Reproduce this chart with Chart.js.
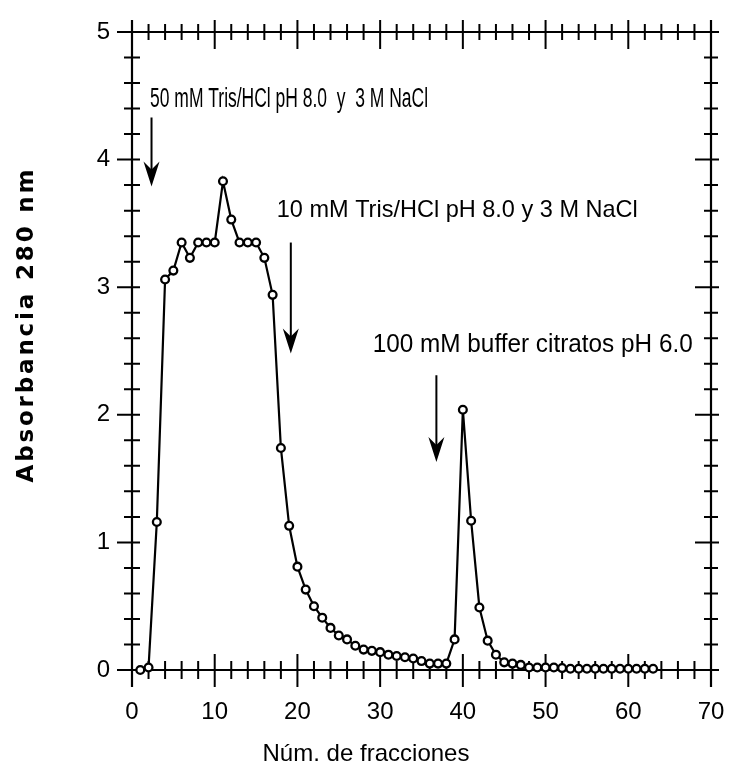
<!DOCTYPE html>
<html>
<head>
<meta charset="utf-8">
<script src="https://cdn.jsdelivr.net/npm/chart.js@4"></script>
<style>
  html, body { margin: 0; padding: 0; background: #fff; }
  canvas { display: block; }
</style>
</head>
<body>
<canvas id="c" width="729" height="768"></canvas>
<script>
// ---- data ----
const fractions = [1,2,3,4,5,6,7,8,9,10,11,12,13,14,15,16,17,18,19,20,21,22,23,24,25,26,27,28,29,30,31,32,33,34,35,36,37,38,39,40,41,42,43,44,45,46,47,48,49,50,51,52,53,54,55,56,57,58,59,60,61,62,63];
const absorbance = [0.00,0.02,1.16,3.06,3.13,3.35,3.23,3.35,3.35,3.35,3.83,3.53,3.35,3.35,3.35,3.23,2.94,1.74,1.13,0.81,0.63,0.50,0.41,0.33,0.27,0.24,0.19,0.16,0.15,0.14,0.12,0.11,0.10,0.09,0.07,0.05,0.05,0.05,0.24,2.04,1.17,0.49,0.23,0.12,0.06,0.05,0.04,0.02,0.02,0.02,0.02,0.015,0.01,0.01,0.01,0.01,0.01,0.01,0.01,0.01,0.01,0.01,0.01];

const xTitle = "Núm. de fracciones";
const yTitle = "Absorbancia 280 nm";

// annotations: label text, label anchor (x,y in data units), arrow x, arrow top y, arrow tip y
const noteTexts = ["50 mM Tris/HCl pH 8.0  y  3 M NaCl", "10 mM Tris/HCl pH 8.0 y 3 M NaCl", "100 mM buffer citratos pH 6.0"];
const noteX = [2.18, 17.5, 29.1];
const noteY = [4.47, 3.60, 2.55];
const arrowX = [2.36, 19.2, 36.8];
const arrowTop = [4.33, 3.35, 2.31];
const arrowTip = [3.79, 2.48, 1.63];
const noteWidths = [278, 361, 320];
const noteSizes = [27, 24, 25];

const points = fractions.map((f, i) => ({ x: f, y: absorbance[i] }));

const axesPlugin = {
  id: 'axesPlugin',
  beforeDatasetsDraw(chart) {
    const ctx = chart.ctx;
    const xs = chart.scales.x, ys = chart.scales.y;
    const L = xs.getPixelForValue(0), R = xs.getPixelForValue(70);
    const B = ys.getPixelForValue(0), T = ys.getPixelForValue(5);
    ctx.save();
    ctx.strokeStyle = '#000';
    ctx.lineWidth = 2.2;
    ctx.lineCap = 'butt';
    ctx.beginPath();
    ctx.moveTo(L - 8, B); ctx.lineTo(R, B);
    ctx.moveTo(L - 8, T); ctx.lineTo(R + 2, T);
    ctx.moveTo(L, T - 12); ctx.lineTo(L, B + 17);
    ctx.moveTo(R, T - 12); ctx.lineTo(R, B + 17);
    ctx.stroke();
    ctx.lineWidth = 2;
    ctx.beginPath();
    for (let v = 0; v <= 70; v += 2) {
      const px = xs.getPixelForValue(v);
      const major = v % 10 === 0;
      ctx.moveTo(px, B - (major ? 16 : 9)); ctx.lineTo(px, B + (major ? 17 : 9));
      ctx.moveTo(px, T - (major ? 12 : 8)); ctx.lineTo(px, T + (major ? 17 : 8));
    }
    for (let k = 0; k <= 25; k++) {
      const v = k / 5;
      const py = ys.getPixelForValue(v);
      const major = k % 5 === 0;
      ctx.moveTo(L - (major ? 15 : 8), py); ctx.lineTo(L + 8, py);
      ctx.moveTo(R - (major ? 16 : 7), py); ctx.lineTo(R + (major ? 8 : 7), py);
    }
    ctx.stroke();
    ctx.restore();
  },
  afterDraw(chart) {
    const ctx = chart.ctx;
    const xs = chart.scales.x, ys = chart.scales.y;
    ctx.save();
    ctx.fillStyle = '#000';
    ctx.strokeStyle = '#000';
    for (let i = 0; i < noteTexts.length; i++) {
      ctx.font = noteSizes[i] + 'px "Liberation Sans Narrow", "Liberation Sans", sans-serif';
      ctx.textBaseline = 'middle';
      ctx.textAlign = 'left';
      const w = ctx.measureText(noteTexts[i]).width;
      const px = xs.getPixelForValue(noteX[i]);
      const py = ys.getPixelForValue(noteY[i]);
      ctx.save();
      ctx.translate(px, py);
      ctx.scale(noteWidths[i] / w, 1);
      ctx.fillText(noteTexts[i], 0, 0);
      ctx.restore();
      const ax = xs.getPixelForValue(arrowX[i]);
      const at = ys.getPixelForValue(arrowTop[i]);
      const ab = ys.getPixelForValue(arrowTip[i]);
      ctx.lineWidth = 2;
      ctx.beginPath();
      ctx.moveTo(ax, at); ctx.lineTo(ax, ab - 12);
      ctx.stroke();
      ctx.beginPath();
      ctx.moveTo(ax, ab);
      ctx.lineTo(ax - 8, ab - 25);
      ctx.lineTo(ax, ab - 17);
      ctx.lineTo(ax + 8, ab - 25);
      ctx.closePath();
      ctx.fill();
    }
    ctx.font = '24px "Liberation Sans", sans-serif';
    ctx.textAlign = 'center';
    ctx.textBaseline = 'middle';
    {
      const w = ctx.measureText(xTitle).width;
      ctx.save();
      ctx.translate(366, 754);
      ctx.scale(207 / w, 1);
      ctx.fillText(xTitle, 0, 0);
      ctx.restore();
    }
    ctx.save();
    ctx.translate(27, 326);
    ctx.rotate(-Math.PI / 2);
    ctx.font = 'bold 23px "DejaVu Sans", sans-serif';
    const chars = Array.from(yTitle);
    const widths = chars.map(c => ctx.measureText(c).width);
    const natural = widths.reduce((a, b) => a + b, 0);
    const target = 313;
    const gap = (target - natural) / (chars.length - 1);
    let cx = -target / 2;
    ctx.textAlign = 'left';
    for (let i = 0; i < chars.length; i++) {
      ctx.fillText(chars[i], cx, 0);
      cx += widths[i] + gap;
    }
    ctx.restore();
    ctx.restore();
  }
};

new Chart(document.getElementById('c'), {
  type: 'line',
  data: {
    datasets: [
      {
        data: points,
        borderColor: '#000',
        borderWidth: 2.2,
        pointRadius: 3.9,
        pointBorderWidth: 2.3,
        pointBackgroundColor: '#fff',
        pointBorderColor: '#000',
        tension: 0,
        clip: false
      },
      {
        data: points,
        showLine: false,
        pointRadius: 1,
        pointBorderWidth: 0,
        pointBackgroundColor: '#000',
        clip: false
      }
    ]
  },
  options: {
    responsive: false,
    devicePixelRatio: 1,
    animation: false,
    events: [],
    layout: { padding: { left: 0, top: 32, right: 18, bottom: 0 } },
    plugins: { legend: { display: false }, tooltip: { enabled: false } },
    scales: {
      x: {
        type: 'linear', min: 0, max: 70,
        ticks: { stepSize: 10, color: '#000', padding: 28, font: { size: 24, family: '"Liberation Sans", sans-serif' }, maxRotation: 0 },
        grid: { display: false, drawTicks: false },
        border: { display: false },
        afterFit(s) { s.height = 98; s.paddingLeft = 0; s.paddingRight = 0; }
      },
      y: {
        type: 'linear', min: 0, max: 5,
        ticks: { stepSize: 1, color: '#000', padding: 22, font: { size: 24, family: '"Liberation Sans", sans-serif' } },
        grid: { display: false, drawTicks: false },
        border: { display: false },
        afterFit(s) { s.width = 132; s.paddingTop = 0; s.paddingBottom = 0; }
      }
    }
  },
  plugins: [axesPlugin]
});
</script>
</body>
</html>
